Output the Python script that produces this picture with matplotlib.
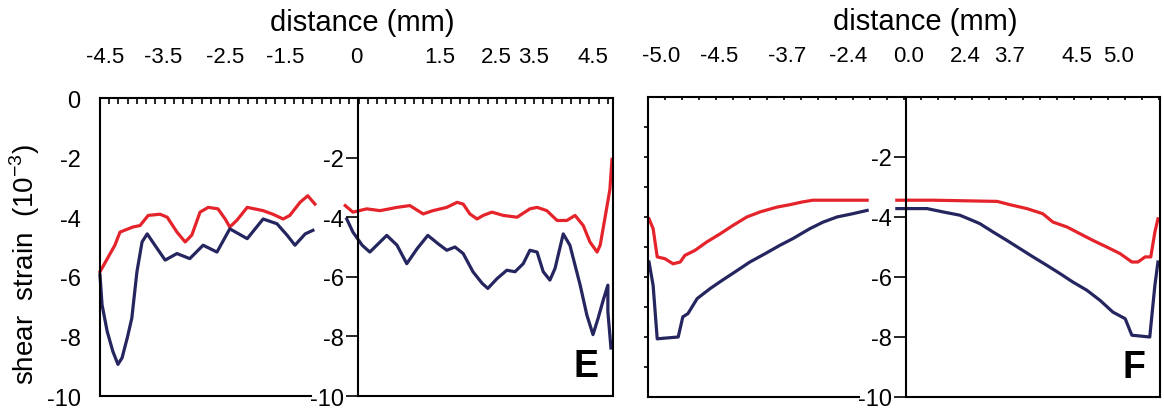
import matplotlib
matplotlib.use("Agg")
import matplotlib.pyplot as plt
import numpy as np

plt.rcParams['font.family'] = ['Liberation Sans', 'DejaVu Sans']
plt.rcParams['axes.unicode_minus'] = False

# x = position along the scan (0 = left edge of panel, 100 = right edge)
# panel E, left half
e_left_x = [0, 1.4, 2.9, 3.9, 6.4, 7.8, 9.4, 11.7, 13.1, 15.0, 16.6, 17.9, 19.5, 21.1, 23.0,
            24.4, 25.3, 26.7, 28.7, 31.8, 33.7, 35.7, 37.0, 39.0, 40.5, 41.9]
e_left_red = [-5.83, -5.4, -4.94, -4.5, -4.33, -4.28, -3.94, -3.9, -4.0, -4.5, -4.83, -4.6, -3.83,
              -3.67, -3.72, -4.06, -4.33, -4.1, -3.67, -3.78, -3.9, -4.06, -3.94, -3.5, -3.28, -3.56]
e_left_bx = [0, 0.4, 1.4, 2.5, 3.5, 4.3, 5.3, 6.2, 7.2, 8.2, 9.2, 10.7, 12.7, 15.0, 17.5, 20.1,
             22.8, 25.3, 28.7, 31.8, 34.5, 36.5, 38.0, 40.0, 41.5]
e_left_blue = [-5.94, -6.94, -7.83, -8.5, -8.94, -8.72, -8.06, -7.39, -5.83, -4.83, -4.56, -4.94,
               -5.44, -5.22, -5.39, -4.94, -5.17, -4.39, -4.72, -4.06, -4.22, -4.61, -4.94, -4.56, -4.44]

# panel E, right half
e_right_x = [47.8, 49.3, 52.0, 54.6, 57.9, 60.4, 63.0, 64.9, 67.6, 69.6, 70.8, 72.1, 73.5, 74.7,
             76.4, 78.6, 81.3, 83.8, 85.2, 87.1, 89.1, 91.0, 92.6, 94.2, 95.5, 96.9, 97.5, 98.4, 99.4, 99.8]
e_right_red = [-3.61, -3.83, -3.72, -3.78, -3.67, -3.61, -3.89, -3.78, -3.67, -3.5, -3.56, -3.89,
               -4.06, -3.94, -3.83, -3.94, -4.0, -3.72, -3.67, -3.78, -4.11, -4.11, -3.94, -4.28,
               -4.83, -5.17, -4.94, -4.06, -3.06, -2.06]
e_right_bx = [48.1, 49.3, 51.1, 52.6, 54.6, 55.9, 57.9, 59.8, 61.8, 63.9, 65.9, 67.6, 69.2, 70.8,
              72.7, 74.5, 75.6, 77.4, 79.3, 80.9, 82.5, 83.8, 85.2, 86.4, 87.7, 88.7, 90.3, 91.6,
              93.6, 94.9, 96.1, 97.1, 98.1, 99.0, 99.0, 99.6]
e_right_blue = [-4.06, -4.5, -4.94, -5.17, -4.83, -4.61, -4.94, -5.56, -5.06, -4.61, -4.89, -5.11,
                -5.0, -5.22, -5.83, -6.22, -6.39, -6.06, -5.78, -5.83, -5.56, -5.11, -5.17, -5.83,
                -6.11, -5.72, -4.56, -4.94, -6.28, -7.28, -7.94, -7.39, -6.78, -6.28, -7.17, -8.39]

# panel F, left half
f_left_x = [0.2, 1.0, 1.8, 3.3, 4.9, 6.3, 7.2, 9.2, 11.5, 14.1, 16.6, 19.3, 21.9, 25.2, 27.7,
            30.1, 32.2, 42.8]
f_left_red = [-4.06, -4.39, -5.33, -5.39, -5.56, -5.5, -5.28, -5.11, -4.83, -4.56, -4.28, -4.0,
              -3.83, -3.67, -3.59, -3.5, -3.44, -3.44]
f_left_bx = [0.2, 1.0, 1.8, 5.9, 6.8, 7.8, 9.6, 12.1, 14.5, 17.0, 19.9, 22.9, 25.8, 28.3, 31.6,
             34.2, 36.9, 40.0, 42.8]
f_left_blue = [-5.5, -6.28, -8.06, -8.0, -7.33, -7.22, -6.72, -6.39, -6.11, -5.83, -5.5, -5.22,
               -4.94, -4.72, -4.39, -4.17, -4.0, -3.89, -3.78]

# panel F, right half
f_right_x = [48.6, 55.7, 68.2, 70.7, 74.0, 77.1, 79.1, 81.8, 84.4, 86.9, 89.6, 92.2, 94.5, 95.7,
             97.1, 98.2, 99.0, 99.6]
f_right_red = [-3.44, -3.44, -3.48, -3.59, -3.72, -3.89, -4.17, -4.33, -4.56, -4.78, -5.0, -5.22,
               -5.5, -5.5, -5.33, -5.33, -4.5, -4.06]
f_right_bx = [48.6, 54.5, 57.6, 60.9, 63.3, 64.8, 67.4, 70.1, 72.7, 75.2, 77.9, 80.5, 83.0, 85.7,
              88.3, 90.8, 93.2, 94.5, 98.0, 99.0, 99.6]
f_right_blue = [-3.72, -3.72, -3.83, -3.94, -4.11, -4.22, -4.5, -4.78, -5.06, -5.33, -5.61, -5.89,
                -6.17, -6.44, -6.78, -7.17, -7.39, -7.94, -8.0, -6.28, -5.5]

# top labels (mm) and where they sit along the panel
e_top_labels = ['-4.5', '-3.5', '-2.5', '-1.5', '0', '1.5', '2.5', '3.5', '4.5']
e_top_pos = [1.0, 12.3, 24.4, 36.1, 49.9, 66.3, 77.2, 84.6, 96.0]
f_top_labels = ['-5.0', '-4.5', '-3.7', '-2.4', '0.0', '2.4', '3.7', '4.5', '5.0']
f_top_pos = [2.5, 13.9, 27.1, 39.1, 50.8, 61.9, 70.7, 83.8, 91.8]

RED = '#e5232b'
BLUE = '#25255f'
LW = 2.3


def make_panel(rect, letter, top_pos, top_labels, left, right, title_x, left_labels, tick_step):
    ax = fig.add_axes(rect)
    ax.set_xlim(0, 100)
    ax.set_ylim(-10, 0)
    for s in ax.spines.values():
        s.set_linewidth(1.5)
    ax.spines['bottom'].set_bounds(0, 41.2)

    # curves
    ax.plot(left[0], left[1], color=RED, lw=LW, clip_on=False)
    ax.plot(left[2], left[3], color=BLUE, lw=LW, clip_on=False)
    ax.plot(right[0], right[1], color=RED, lw=LW, clip_on=False)
    ax.plot(right[2], right[3], color=BLUE, lw=LW, clip_on=False)

    # top tick marks
    ax.xaxis.tick_top()
    ax.set_xticks(np.arange(0, 100.1, tick_step))
    ax.tick_params(axis='x', direction='in', length=4 if left_labels else 2, width=1.2,
                   labeltop=False)

    if left_labels:
        ax.set_yticks([0, -2, -4, -6, -8, -10])
        ax.tick_params(axis='y', length=0, pad=14, labelsize=17)
    else:
        ax.set_yticks(np.arange(-9, 0, 1))
        ax.tick_params(axis='y', direction='out', length=3, width=1.2, labelleft=False)

    # top labels in mm
    sec = ax.secondary_xaxis('top')
    sec.set_xticks(top_pos)
    sec.set_xticklabels(top_labels)
    sec.tick_params(length=0, pad=22, labelsize=16)
    sec.spines['top'].set_visible(False)
    ax.text(title_x, 1.255, 'distance (mm)', transform=ax.transAxes, ha='center',
            va='center', fontsize=21)

    # inner axis for the right half
    inner = ax.inset_axes([0.503, 0, 0.497, 1])
    inner.set_facecolor('none')
    inner.set_xlim(0, 1)
    inner.set_ylim(-10, 0)
    inner.set_xticks([])
    inner.set_yticks([-2, -4, -6, -8, -10])
    inner.tick_params(axis='y', direction='out', length=9, width=1.2, pad=1, labelsize=17)
    inner.spines['top'].set_visible(False)
    inner.spines['right'].set_visible(False)
    for s in inner.spines.values():
        s.set_linewidth(1.5)

    ax.text(0.972, 0.04, letter, transform=ax.transAxes, ha='right', va='bottom',
            fontsize=27, fontweight='bold')
    return ax


fig = plt.figure(figsize=(11.64, 4.10), dpi=100)

make_panel([100 / 1164, 13 / 410, 513 / 1164, 298 / 410], 'E', e_top_pos, e_top_labels,
           (e_left_x, e_left_red, e_left_bx, e_left_blue),
           (e_right_x, e_right_red, e_right_bx, e_right_blue),
           0.511, True, 1.8)
make_panel([648 / 1164, 12 / 410, 512 / 1164, 300 / 410], 'F', f_top_pos, f_top_labels,
           (f_left_x, f_left_red, f_left_bx, f_left_blue),
           (f_right_x, f_right_red, f_right_bx, f_right_blue),
           0.541, False, 3.33)

fig.text(0.021, 0.355, 'shear  strain  (10$^{\\mathregular{-3}}$)', rotation=90,
         ha='center', va='center', fontsize=20)

fig.savefig('out.png', dpi=100)
